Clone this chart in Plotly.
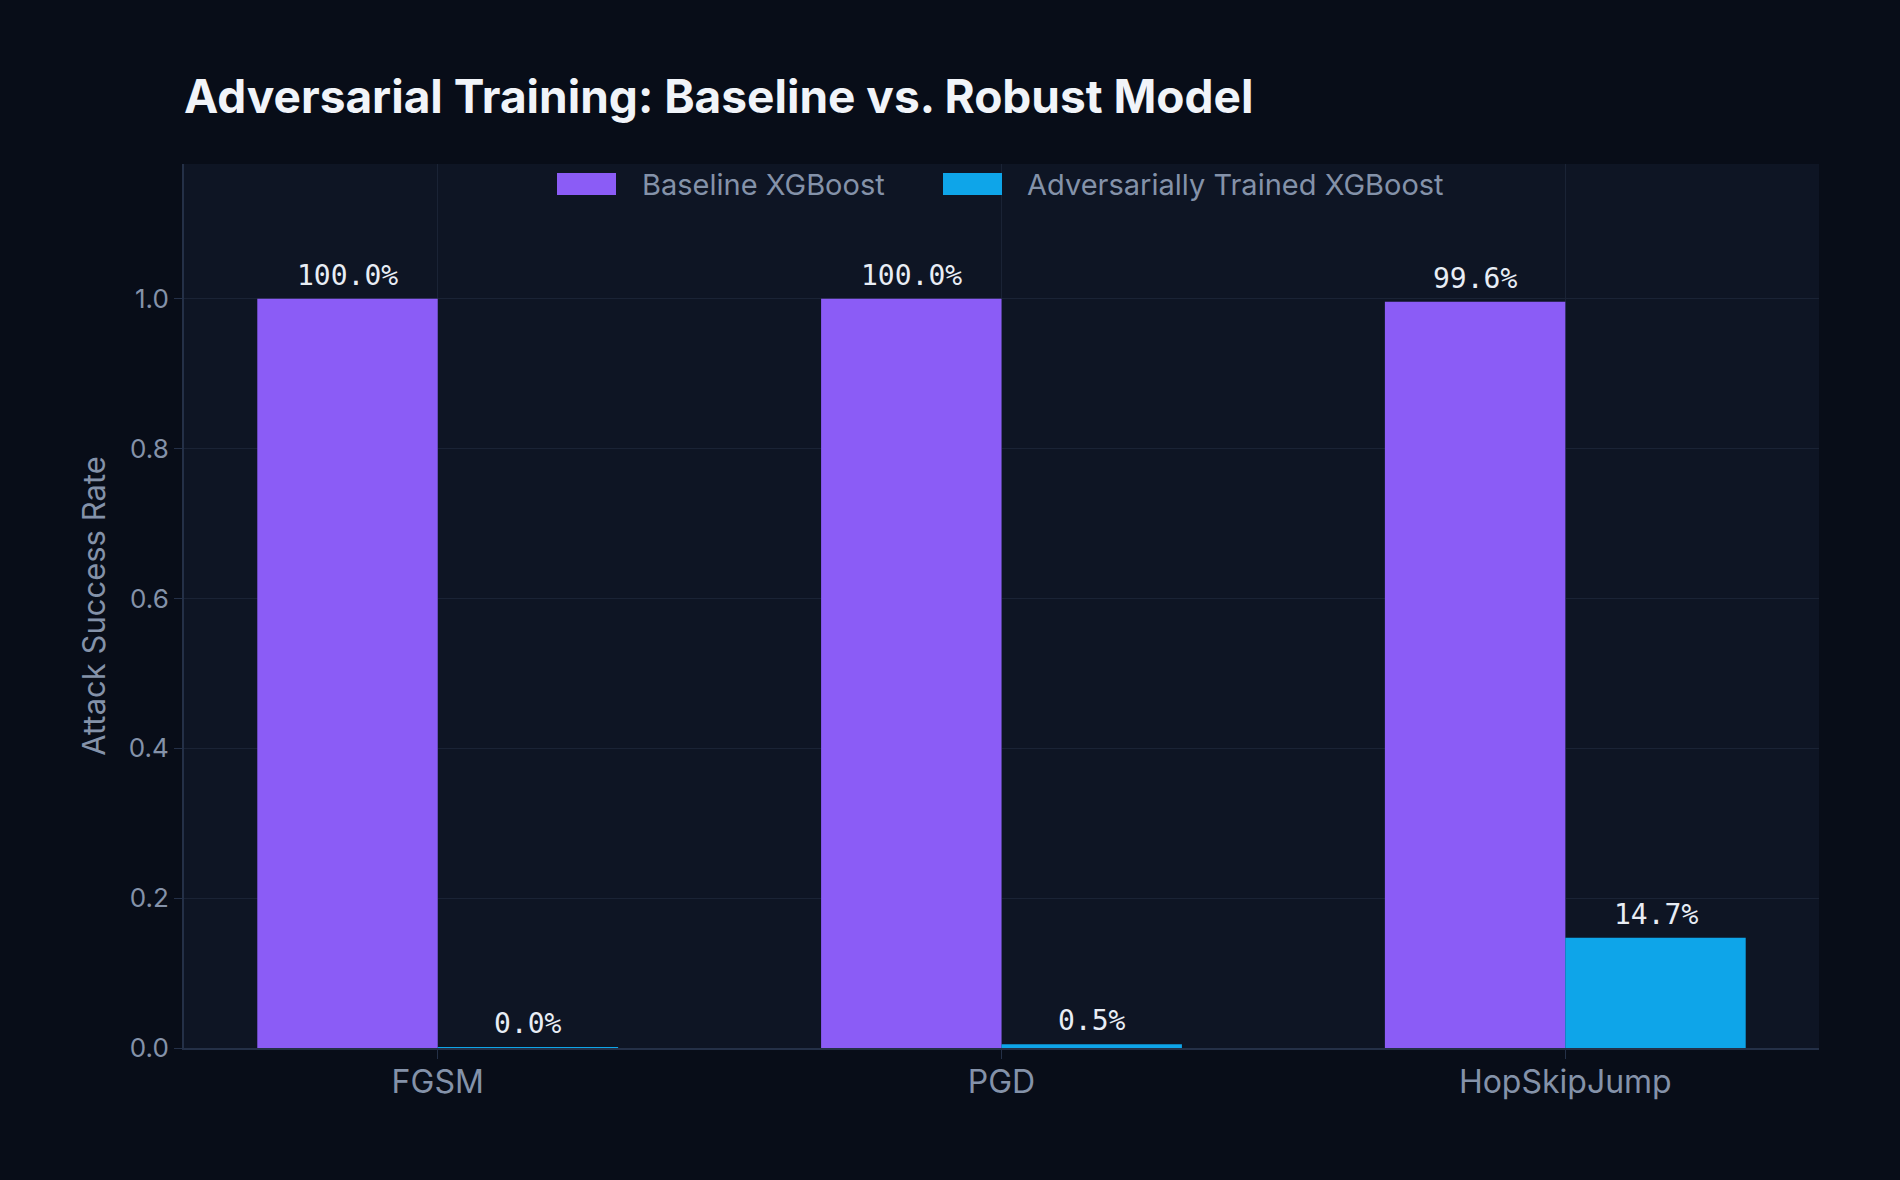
import plotly.graph_objects as go

attacks = ["FGSM", "PGD", "HopSkipJump"]
baseline = [1.0, 1.0, 0.996]
robust = [0.001, 0.005, 0.147]
baseline_labels = ["100.0%", "100.0%", "99.6%"]
robust_labels = ["0.0%", "0.5%", "14.7%"]
y_ticks = [0.0, 0.2, 0.4, 0.6, 0.8, 1.0]
series_names = ["Baseline XGBoost", "Adversarially Trained XGBoost"]
series_colors = ["#8b5cf6", "#0ea5e9"]

BARGAP = 0.36
BAR_W = (1 - BARGAP) / 2
label_font = dict(family="DejaVu Sans Mono", size=28, color="#e8edf5")
TEXT_COLOR = "#8492a9"

fig = go.Figure()
for name, vals, color in zip(series_names, [baseline, robust], series_colors):
    fig.add_trace(go.Bar(
        x=attacks, y=vals, name=name,
        marker=dict(color=color, line=dict(width=0)),
        showlegend=False,
    ))

# value labels above bars
for offset, vals, labels in [(-BAR_W / 2, baseline, baseline_labels), (BAR_W / 2, robust, robust_labels)]:
    for i, (v, t) in enumerate(zip(vals, labels)):
        fig.add_annotation(
            x=i + offset, y=v, xref="x", yref="y", text=t, showarrow=False,
            yanchor="bottom", xanchor="center", yshift=5, font=label_font,
        )

# custom legend (wide swatches)
L, R, T, B = 184, 81, 164, 132
PW, PH = 1900 - L - R, 1180 - T - B
def px_x(px):
    return (px - L) / PW
def px_y(py):
    return 1 - (py - T) / PH

legend_items = [(557, 616, 640), (943, 1002, 1025)]
for (x0, x1, tx), name, color in zip(legend_items, series_names, series_colors):
    fig.add_shape(type="rect", xref="paper", yref="paper",
                  x0=px_x(x0), x1=px_x(x1), y0=px_y(195), y1=px_y(173),
                  fillcolor=color, line=dict(width=0), layer="above")
    fig.add_annotation(x=px_x(tx), y=px_y(184), xref="paper", yref="paper",
                       text=name, showarrow=False, xanchor="left", yanchor="middle",
                       font=dict(family="Inter", size=29, color=TEXT_COLOR))

fig.update_layout(
    width=1900, height=1180,
    paper_bgcolor="#080d18",
    plot_bgcolor="#0e1524",
    barmode="group", bargap=BARGAP, bargroupgap=0,
    margin=dict(l=L, r=R, t=T, b=B),
    font=dict(family="Inter", color=TEXT_COLOR, size=27),
    title=dict(
        text="<b>Adversarial Training: Baseline vs. Robust Model</b>",
        font=dict(family="Inter", size=46, color="#f1f4f9"),
        x=184 / 1900, xanchor="left", y=1 - 97 / 1180, yanchor="middle",
    ),
    showlegend=False,
)
fig.update_xaxes(
    range=[-0.45, 2.45],
    showgrid=True, gridcolor="#1a2335", gridwidth=1,
    showline=True, linecolor="#243047", linewidth=2,
    ticks="outside", ticklen=9, tickcolor="#243047",
    ticklabelstandoff=-4,
    tickfont=dict(size=32, color=TEXT_COLOR),
)
fig.update_yaxes(
    range=[0, 1.18], tickvals=y_ticks, tickformat=".1f",
    showgrid=True, gridcolor="#1a2335", gridwidth=1, zeroline=False,
    showline=True, linecolor="#243047", linewidth=2,
    ticks="outside", ticklen=8, tickcolor="#243047",
    tickfont=dict(size=26, color=TEXT_COLOR),
    title=dict(text="Attack Success Rate", font=dict(size=31, color=TEXT_COLOR), standoff=14),
)

fig.write_html("out.html")
